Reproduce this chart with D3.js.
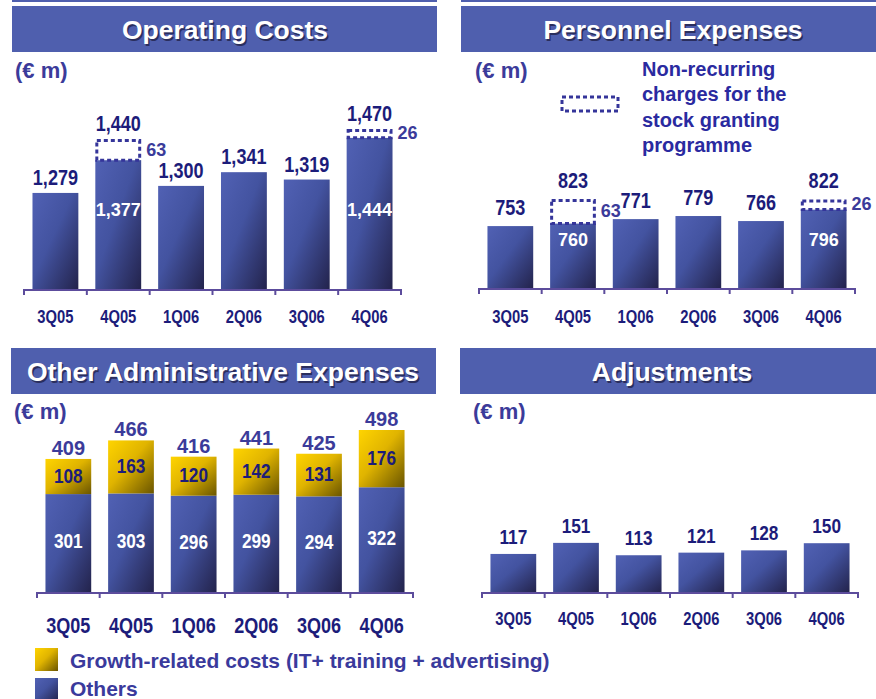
<!DOCTYPE html>
<html lang="en">
<head>
<meta charset="UTF-8">
<title>Costs by quarter</title>
<script src="https://d3js.org/d3.v7.min.js"></script>
<style>
    body { margin: 0; padding: 0; background: #fff; overflow: hidden; }
    svg { display: block; }
    .narrow { font-family: "Liberation Sans Narrow", "Arial Narrow", "Liberation Sans", Arial, sans-serif; font-weight: bold; }
    .wide { font-family: "Liberation Sans", Arial, sans-serif; font-weight: bold; }
</style>
</head>
<body>
<svg id="chart" width="876" height="699"></svg>
<script>
// data
const quarters = ["3Q05", "4Q05", "1Q06", "2Q06", "3Q06", "4Q06"];
const opTotal = [1279, 1440, 1300, 1341, 1319, 1470];
const opNonRecurring = [0, 63, 0, 0, 0, 26];
const persTotal = [753, 823, 771, 779, 766, 822];
const persNonRecurring = [0, 63, 0, 0, 0, 26];
const adminOthers = [301, 303, 296, 299, 294, 322];
const adminGrowth = [108, 163, 120, 142, 131, 176];
const adminTotal = [409, 466, 416, 441, 425, 498];
const adjustments = [117, 151, 113, 121, 128, 150];

const navy = "#1c1c7a";
const purple = "#3b3b9a";
const headerFill = "#4f5fae";

const svg = d3.select("#chart");
const defs = svg.append("defs");

function gradient(id, stops) {
    const g = defs.append("linearGradient").attr("id", id)
        .attr("x1", 0).attr("y1", 0).attr("x2", 1).attr("y2", 1);
    stops.forEach(s => g.append("stop").attr("offset", s[0]).attr("stop-color", s[1]));
}
gradient("blue", [[0, "#5161b4"], [0.45, "#4353a0"], [1, "#23234c"]]);
gradient("gold", [[0, "#ffd400"], [0.45, "#e0b400"], [1, "#6a5500"]]);

// thin rules on top
svg.append("line").attr("x1", 12).attr("x2", 437).attr("y1", 1).attr("y2", 1)
    .attr("stroke", headerFill).attr("stroke-width", 2);
svg.append("line").attr("x1", 461).attr("x2", 876).attr("y1", 1).attr("y2", 1)
    .attr("stroke", headerFill).attr("stroke-width", 2);

function header(x0, x1, y0, title, cx) {
    svg.append("rect").attr("x", x0).attr("y", y0).attr("width", x1 - x0).attr("height", 46)
        .attr("fill", headerFill);
    svg.append("text").attr("class", "wide").attr("x", cx + 1.5).attr("y", y0 + 34.5)
        .attr("text-anchor", "middle").attr("font-size", 26.5).attr("fill", "#1e1e44")
        .attr("opacity", 0.75).text(title);
    svg.append("text").attr("class", "wide").attr("x", cx).attr("y", y0 + 33)
        .attr("text-anchor", "middle").attr("font-size", 26.5).attr("fill", "#fff").text(title);
}

function unitLabel(x, y) {
    svg.append("text").attr("class", "wide").attr("x", x).attr("y", y)
        .attr("font-size", 22).attr("fill", purple).text("(€ m)");
}

function xAxis(x0, x1, y, labelY, labelSize) {
    const x = d3.scaleBand().domain(quarters).range([x0, x1])
        .paddingInner(0.27).paddingOuter(0.135);
    const g = svg.append("g");
    g.append("line").attr("x1", x0).attr("x2", x1).attr("y1", y + 1).attr("y2", y + 1)
        .attr("stroke", "#5c4c9c").attr("stroke-width", 2);
    d3.range(quarters.length + 1).forEach(i => {
        const tx = x0 + i * x.step();
        g.append("line").attr("x1", tx).attr("x2", tx).attr("y1", y).attr("y2", y + 6)
            .attr("stroke", "#5c4c9c").attr("stroke-width", 2);
    });
    g.selectAll("text.cat").data(quarters).join("text")
        .attr("class", "narrow cat")
        .attr("x", d => x(d) + x.bandwidth() / 2).attr("y", labelY)
        .attr("text-anchor", "middle").attr("font-size", labelSize).attr("fill", navy)
        .text(d => d);
    return x;
}

// panel with a total bar plus a dashed non-recurring part
function dashedPanel(cfg) {
    const x = xAxis(cfg.x0, cfg.x1, cfg.axisY, cfg.catY, 18);
    const y = d3.scaleLinear().domain(cfg.domain).range([cfg.axisY, cfg.topY]);
    const rows = quarters.map((q, i) => ({ q, total: cfg.total[i], extra: cfg.extra[i] }));
    const g = svg.append("g");
    g.selectAll("rect.bar").data(rows).join("rect").attr("class", "bar")
        .attr("x", d => x(d.q)).attr("width", x.bandwidth())
        .attr("y", d => y(d.total - d.extra))
        .attr("height", d => cfg.axisY - y(d.total - d.extra))
        .attr("fill", "url(#blue)");
    const ex = rows.filter(d => d.extra > 0);
    g.selectAll("rect.extra").data(ex).join("rect").attr("class", "extra")
        .attr("x", d => x(d.q) + 1.5).attr("width", x.bandwidth() - 3)
        .attr("y", d => y(d.total) + 1.5)
        .attr("height", d => y(d.total - d.extra) - y(d.total) - 1.5)
        .attr("fill", "#fff").attr("stroke", "#35359a").attr("stroke-width", 3)
        .attr("stroke-dasharray", "4,3");
    g.selectAll("text.extraLbl").data(ex).join("text").attr("class", "wide extraLbl")
        .attr("x", d => x(d.q) + x.bandwidth() + 5)
        .attr("y", d => (y(d.total) + y(d.total - d.extra)) / 2 + 6)
        .attr("font-size", 18).attr("fill", purple).text(d => d.extra);
    g.selectAll("text.inner").data(ex).join("text").attr("class", "wide inner")
        .attr("x", d => x(d.q) + x.bandwidth() / 2)
        .attr("y", d => cfg.axisY - cfg.innerUp)
        .attr("text-anchor", "middle").attr("font-size", 18).attr("fill", "#fff")
        .text(d => d3.format(",")(d.total - d.extra));
    g.selectAll("text.total").data(rows).join("text").attr("class", "narrow total")
        .attr("x", d => x(d.q) + x.bandwidth() / 2)
        .attr("y", d => y(d.total) - cfg.labelGap)
        .attr("text-anchor", "middle").attr("font-size", 22).attr("fill", navy)
        .text(d => d3.format(",")(d.total));
}

// Operating costs
header(12, 437, 6, "Operating Costs", 225);
unitLabel(15, 78);
dashedPanel({ x0: 24, x1: 401, axisY: 289, topY: 129, domain: [992, 1470], catY: 323,
    total: opTotal, extra: opNonRecurring, labelGap: 8, innerUp: 73 });

// Personnel expenses
header(461, 884, 6, "Personnel Expenses", 673);
unitLabel(475, 78);
dashedPanel({ x0: 479, x1: 855, axisY: 288, topY: 199, domain: [593, 823], catY: 323,
    total: persTotal, extra: persNonRecurring, labelGap: 11, innerUp: 42 });

// legend of the dashed part
svg.append("rect").attr("x", 562).attr("y", 97).attr("width", 56).attr("height", 14)
    .attr("fill", "#fff").attr("stroke", "#35359a").attr("stroke-width", 3)
    .attr("stroke-dasharray", "4,3");
["Non-recurring", "charges for the", "stock granting", "programme"].forEach((t, i) => {
    svg.append("text").attr("class", "wide").attr("x", 642).attr("y", 76 + i * 25.3)
        .attr("font-size", 20).attr("fill", "#2a2aa0").text(t);
});

// Other administrative expenses
header(11, 436, 348, "Other Administrative Expenses", 223);
unitLabel(14, 419);
{
    const axisY = 592;
    const x = xAxis(37, 413, axisY, 633, 22);
    const y = d3.scaleLinear().domain([0, 498]).range([axisY, 430]);
    const rows = quarters.map((q, i) => ({ q, others: adminOthers[i], growth: adminGrowth[i], total: adminTotal[i] }));
    const g = svg.append("g");
    g.selectAll("rect.oth").data(rows).join("rect").attr("class", "oth")
        .attr("x", d => x(d.q)).attr("width", x.bandwidth())
        .attr("y", d => y(d.others)).attr("height", d => axisY - y(d.others))
        .attr("fill", "url(#blue)");
    g.selectAll("rect.gro").data(rows).join("rect").attr("class", "gro")
        .attr("x", d => x(d.q)).attr("width", x.bandwidth())
        .attr("y", d => y(d.others + d.growth)).attr("height", d => y(d.others) - y(d.others + d.growth))
        .attr("fill", "url(#gold)");
    g.selectAll("text.othL").data(rows).join("text").attr("class", "narrow othL")
        .attr("x", d => x(d.q) + x.bandwidth() / 2)
        .attr("y", d => (y(d.others) + axisY) / 2 + 5)
        .attr("text-anchor", "middle").attr("font-size", 21).attr("fill", "#fff").text(d => d.others);
    g.selectAll("text.groL").data(rows).join("text").attr("class", "narrow groL")
        .attr("x", d => x(d.q) + x.bandwidth() / 2)
        .attr("y", d => (y(d.others) + y(d.others + d.growth)) / 2 + 6)
        .attr("text-anchor", "middle").attr("font-size", 21).attr("fill", navy).text(d => d.growth);
    g.selectAll("text.tot").data(rows).join("text").attr("class", "wide tot")
        .attr("x", d => x(d.q) + x.bandwidth() / 2)
        .attr("y", d => y(d.others + d.growth) - 4)
        .attr("text-anchor", "middle").attr("font-size", 20).attr("fill", purple).text(d => d.total);
}

// legend
svg.append("rect").attr("x", 35).attr("y", 648).attr("width", 23).attr("height", 23).attr("fill", "url(#gold)");
svg.append("rect").attr("x", 35).attr("y", 678).attr("width", 23).attr("height", 23).attr("fill", "url(#blue)");
svg.append("text").attr("class", "wide").attr("x", 70).attr("y", 668).attr("font-size", 21)
    .attr("fill", "#3a3a9c").text("Growth-related costs (IT+ training + advertising)");
svg.append("text").attr("class", "wide").attr("x", 70).attr("y", 696).attr("font-size", 21)
    .attr("fill", "#3a3a9c").text("Others");

// Adjustments
header(460, 884, 348, "Adjustments", 672);
unitLabel(473, 419);
{
    const axisY = 592;
    const x = xAxis(482, 858, axisY, 625, 18);
    const y = d3.scaleLinear().domain([0, 498]).range([axisY, 430]);
    const g = svg.append("g");
    g.selectAll("rect").data(adjustments).join("rect")
        .attr("x", (d, i) => x(quarters[i])).attr("width", x.bandwidth())
        .attr("y", d => y(d)).attr("height", d => axisY - y(d))
        .attr("fill", "url(#blue)");
    g.selectAll("text.tot").data(adjustments).join("text").attr("class", "narrow tot")
        .attr("x", (d, i) => x(quarters[i]) + x.bandwidth() / 2)
        .attr("y", d => y(d) - 10)
        .attr("text-anchor", "middle").attr("font-size", 21).attr("fill", navy).text(d => d);
}

// no narrow face installed: squeeze the bold face to the width of a narrow one
svg.selectAll("text.narrow").each(function () {
    const w = this.getComputedTextLength();
    d3.select(this).attr("textLength", w * 0.82).attr("lengthAdjust", "spacingAndGlyphs");
});
</script>
</body>
</html>
